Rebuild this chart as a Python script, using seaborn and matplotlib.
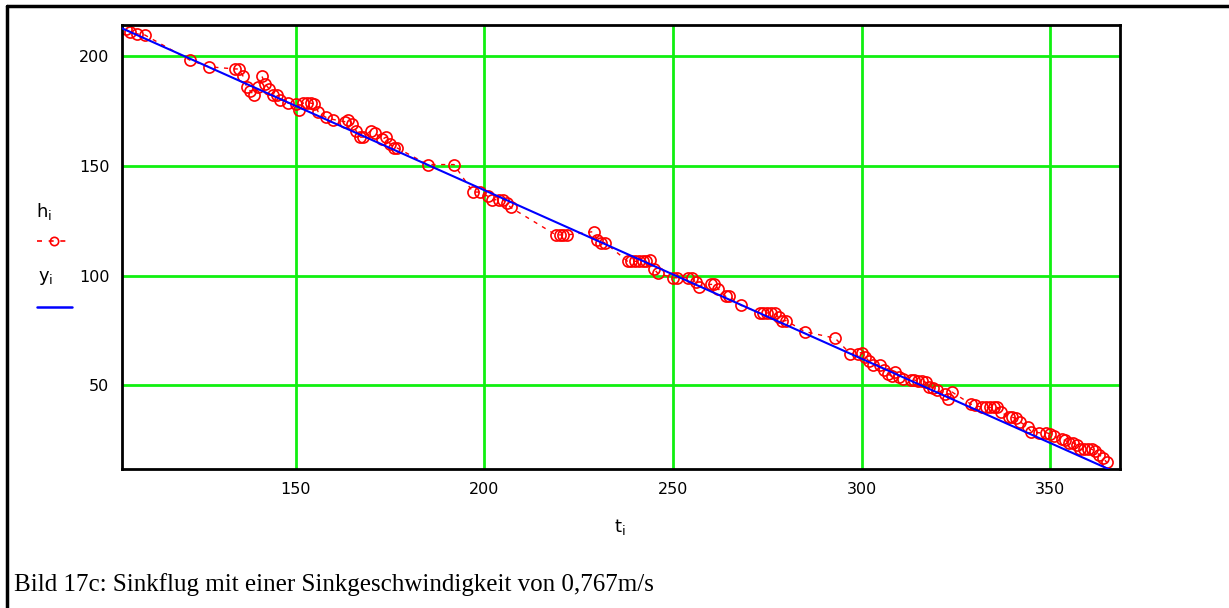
import matplotlib
matplotlib.use("Agg")
import matplotlib.pyplot as plt
from matplotlib.lines import Line2D
import seaborn as sns
import pandas as pd

# ---- data ----
t_i = [105, 106, 108, 110, 122, 127, 134, 135, 136, 137, 138, 139, 140, 141, 142, 143,
       144, 145, 146, 148, 150, 151, 152, 153, 154, 155, 156, 158, 160, 163, 164, 165,
       166, 167, 168, 170, 171, 173, 174, 175, 176, 177, 185, 192, 197, 199, 201, 202,
       204, 205, 206, 207, 219, 220, 221, 222, 229, 230, 231, 232, 238, 239, 240, 241,
       242, 243, 244, 245, 246, 250, 251, 254, 255, 256, 257, 260, 261, 262, 264, 265,
       268, 273, 274, 275, 276, 277, 278, 279, 280, 285, 293, 297, 299, 300, 301, 302,
       303, 305, 306, 307, 308, 309, 310, 311, 313, 314, 315, 316, 317, 318, 319, 320,
       322, 323, 324, 329, 330, 332, 333, 334, 335, 336, 337, 339, 340, 341, 342, 344,
       345, 347, 349, 350, 351, 353, 354, 355, 356, 357, 358, 359, 360, 361, 362, 363,
       364, 365]
h_i = [212, 211, 210, 209.5, 198, 195, 194, 194, 191, 186, 184, 182, 186, 191, 187, 185,
       182, 182, 180, 178.5, 178, 175.5, 178.5, 178.5, 178.5, 178, 174.5, 172, 171, 170, 171, 169,
       166, 163, 163, 166, 165, 162, 163, 160, 158, 158, 150.5, 150.5, 138, 138, 136, 134.5,
       134.5, 134.5, 133, 131, 118.5, 118.5, 118.5, 118.5, 120, 116, 115, 115, 106.5, 106.5, 106.5, 106.5,
       106.5, 106.5, 107, 103, 101, 99, 99, 99, 99, 97, 95, 96, 96, 94, 90.5, 90.5,
       86.5, 83, 83, 83, 83, 83, 81, 79.5, 79.5, 74.5, 71.5, 64.5, 64.5, 65, 63, 61,
       59.5, 59.5, 57, 55, 54.5, 56, 54, 53, 52.5, 52.5, 52, 52, 51.5, 49.5, 49, 48,
       46, 44, 47, 41.5, 41, 40, 40, 40, 40, 40, 38, 35.5, 35.5, 35, 33.5, 31,
       29, 28.5, 28.5, 28, 27, 25.5, 25, 24, 24, 23, 21, 21, 21, 21, 20, 18.5,
       17, 15]
# linear fit y_i (endpoints)
t_fit = [104, 367]
y_fit = [212.5, 10.8]

x_ticks = [150, 200, 250, 300, 350]
y_ticks = [50, 100, 150, 200]

df_h = pd.DataFrame({"t": t_i, "h": h_i})
df_y = pd.DataFrame({"t": t_fit, "y": y_fit})

sns.set_style("white")
plt.rcParams["font.family"] = ["DejaVu Sans"]
plt.rcParams["mathtext.fontset"] = "dejavusans"
plt.rcParams["text.color"] = "black"
plt.rcParams["xtick.color"] = "black"
plt.rcParams["ytick.color"] = "black"

fig = plt.figure(figsize=(12.29, 6.08), dpi=100)
ax = fig.add_axes([122 / 1229, 1 - 469 / 608, (1120 - 122) / 1229, (469 - 25) / 608])

green = "#10f010"
for xv in x_ticks:
    ax.axvline(xv, color=green, lw=2, zorder=0)
for yv in y_ticks:
    ax.axhline(yv, color=green, lw=2, zorder=0)

sns.lineplot(data=df_h, x="t", y="h", ax=ax, estimator=None, sort=False,
             color="red", lw=1.0, linestyle=(0, (3, 4)),
             marker="o", markersize=8, markerfacecolor="none",
             markeredgecolor="red", markeredgewidth=1.2, zorder=2)
sns.lineplot(data=df_y, x="t", y="y", ax=ax, estimator=None, sort=False,
             color="#0000ff", lw=1.5, zorder=3)

ax.set_xlim(104, 368.5)
ax.set_ylim(12, 214)
ax.set_xticks(x_ticks)
ax.set_yticks(y_ticks)
ax.tick_params(length=0, labelsize=11.5, pad=9, labelcolor="black")
ax.set_xlabel("")
ax.set_ylabel("")
for s in ax.spines.values():
    s.set_visible(True)
    s.set_color("black")
    s.set_linewidth(2)

# x label
fig.text(620 / 1229, 1 - 527 / 608, r"$\mathregular{t_i}$", fontsize=13, ha="center", va="center",
         color="black")

# legend at left
fig.text(36 / 1229, 1 - 212 / 608, r"$\mathregular{h_i}$", fontsize=13, ha="left", va="center",
         color="black")
fig.add_artist(Line2D([37 / 1229, 72 / 1229], [1 - 241 / 608] * 2, transform=fig.transFigure,
                      color="red", lw=1.2, linestyle=(0, (3, 4))))
fig.add_artist(Line2D([54 / 1229], [1 - 241 / 608], transform=fig.transFigure,
                      color="red", marker="o", markersize=6, markerfacecolor="none",
                      markeredgewidth=1.2, linestyle="none"))
fig.text(38 / 1229, 1 - 278 / 608, r"$\mathregular{y_i}$", fontsize=13, ha="left", va="center",
         color="black")
fig.add_artist(Line2D([37 / 1229, 72 / 1229], [1 - 307 / 608] * 2, transform=fig.transFigure,
                      color="#0000ff", lw=1.8))

# outer page frame (left and top lines)
fig.add_artist(Line2D([7 / 1229, 7 / 1229], [0, 1 - 6 / 608], transform=fig.transFigure,
                      color="black", lw=2.5))
fig.add_artist(Line2D([7 / 1229, 1], [1 - 6 / 608] * 2, transform=fig.transFigure,
                      color="black", lw=2.5))

# caption
fig.text(14 / 1229, 1 - 585 / 608, "Bild 17c: Sinkflug mit einer Sinkgeschwindigkeit von 0,767m/s",
         fontsize=18, family=["Liberation Serif", "DejaVu Serif"], ha="left", va="center",
         color="black")

fig.savefig("out.png", dpi=100, facecolor="white")
